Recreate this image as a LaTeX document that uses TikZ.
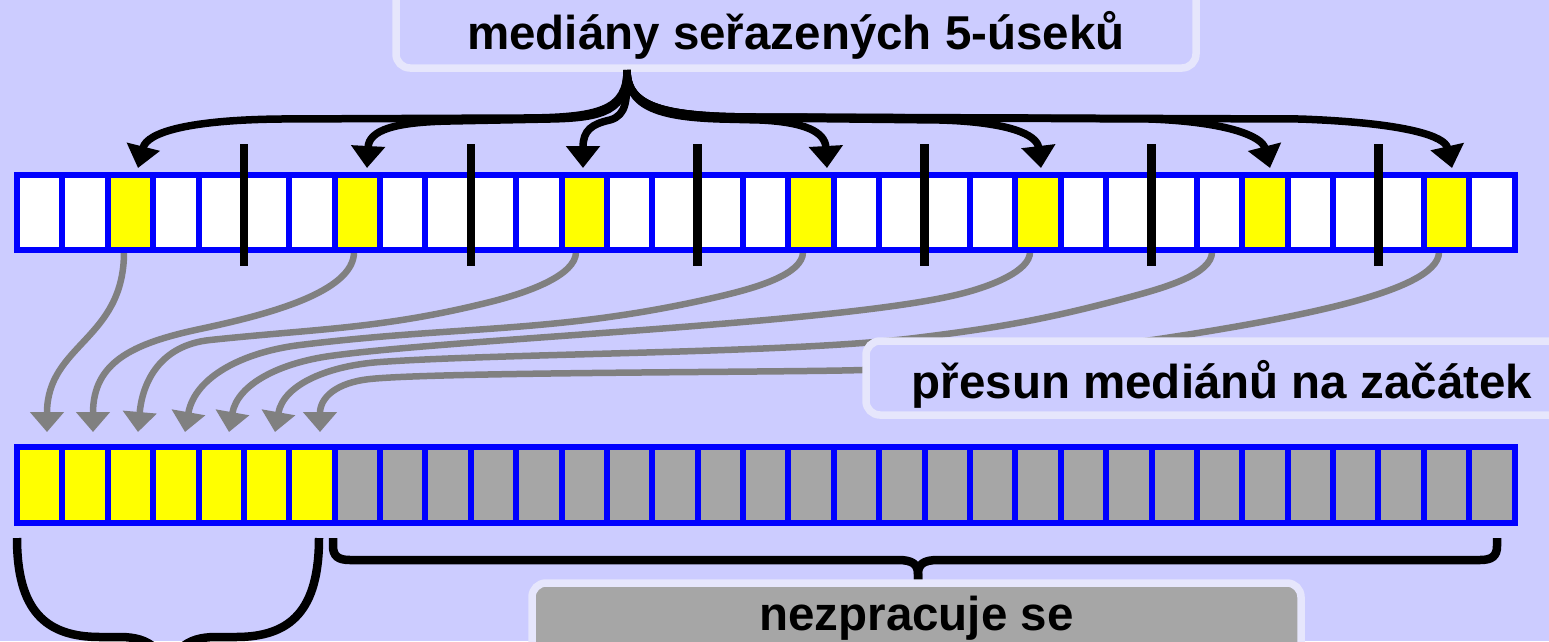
\documentclass[tikz,border=0pt]{standalone}
\usepackage{fontspec}
\setmainfont{Liberation Sans}
\usetikzlibrary{arrows.meta,calc}
\definecolor{bg}{RGB}{204,204,255}
\definecolor{boxedge}{RGB}{230,230,252}
\definecolor{cellgray}{RGB}{166,166,166}
\definecolor{linegray}{RGB}{128,128,128}
\definecolor{cellblue}{RGB}{0,0,255}
\definecolor{medyellow}{RGB}{255,255,0}
\begin{document}
\begin{tikzpicture}[x=1pt,y=1pt,
  cell/.style={rectangle,draw=cellblue,line width=6pt,minimum width=45.38pt,inner sep=0pt,outer sep=0pt},
  lbox/.style={rectangle,rounded corners=14pt,draw=boxedge,line width=7.5pt,inner sep=0pt,font=\bfseries\fontsize{47.5pt}{57pt}\selectfont},
  medarrow/.style={draw=black,line width=7.5pt,-{Triangle[width=33pt,length=22pt]}},
  movearrow/.style={draw=linegray,line width=6.5pt,-{Triangle[width=33pt,length=20pt]}},
  divider/.style={draw=black,line width=8.5pt},
  bracket/.style={draw=black,line width=8.5pt}
]
\fill[bg] (0,0) rectangle (1549,-641);
\useasboundingbox (0,0) rectangle (1549,-641);

% title box
\node[lbox,fill=bg,minimum width=800pt,text height=100pt,text depth=19pt,anchor=base] (title) at (796,-49) {mediány seřazených 5-úseků};

% arrow source and targets
\coordinate (src) at (627,-70);
\coordinate (a1) at (138,-168);
\coordinate (a2) at (367,-168);
\coordinate (a3) at (583,-168);
\coordinate (a4) at (827,-168);
\coordinate (a5) at (1041,-168);
\coordinate (a6) at (1270,-168);
\coordinate (a7) at (1452,-168);

\draw[medarrow] (src) .. controls (627,-110) and (600,-118) .. (520,-118) -- (280,-119) .. controls (190,-120) and (147,-132) .. (a1);
\draw[medarrow] (src) .. controls (627,-110) and (605,-118) .. (550,-119) -- (450,-121) .. controls (395,-122) and (369,-130) .. (a2);
\draw[medarrow] (src) .. controls (627,-100) and (627,-115) .. (610,-120) .. controls (592,-124) and (583,-130) .. (a3);
\draw[medarrow] (src) .. controls (627,-105) and (655,-117) .. (720,-119) -- (760,-120) .. controls (805,-122) and (825,-132) .. (a4);
\draw[medarrow] (src) .. controls (627,-108) and (665,-117) .. (760,-118) -- (940,-120) .. controls (1010,-122) and (1037,-135) .. (a5);
\draw[medarrow] (src) .. controls (627,-108) and (665,-117) .. (760,-117) -- (1150,-119) .. controls (1230,-122) and (1262,-137) .. (a6);
\draw[medarrow] (src) .. controls (627,-108) and (665,-117) .. (760,-117) -- (1300,-119) .. controls (1410,-123) and (1445,-137) .. (a7);

% gray move arrows
\coordinate (g1s) at (124,-252);  \coordinate (g1e) at (47,-432);
\coordinate (g2s) at (354,-252);  \coordinate (g2e) at (93,-432);
\coordinate (g3s) at (576,-252);  \coordinate (g3e) at (138,-432);
\coordinate (g4s) at (803,-252);  \coordinate (g4e) at (185,-432);
\coordinate (g5s) at (1030,-252); \coordinate (g5e) at (229,-432);
\coordinate (g6s) at (1212,-252); \coordinate (g6e) at (275,-432);
\coordinate (g7s) at (1439,-252); \coordinate (g7e) at (320,-432);

\draw[movearrow] (g1s) to[out=-90,in=90,looseness=1.15] (g1e);
\draw[movearrow] (g2s) to[out=-90,in=12,out looseness=0.6] (200,-329)
                 to[out=192,in=90,looseness=1.2] (g2e);
\draw[movearrow] (g3s) to[out=-90,in=14,out looseness=0.6] (490,-302)
                 to[out=194,in=6] (210,-340)
                 to[out=186,in=85,looseness=1.1] (g3e);
\draw[movearrow] (g4s) to[out=-90,in=13,out looseness=0.6] (717,-297)
                 to[out=193,in=7] (300,-345)
                 to[out=187,in=80] (g4e);
\draw[movearrow] (g5s) to[out=-90,in=14,out looseness=0.6] (960,-294)
                 to[out=194,in=8,looseness=0.5] (330,-356)
                 to[out=188,in=80] (g5e);
\draw[movearrow] (g6s) to[out=-90,in=15,out looseness=0.6] (1130,-297)
                 to[out=195,in=7] (915,-338)
                 to[out=187,in=4,looseness=0.6] (380,-362)
                 to[out=184,in=80] (g6e);
\draw[movearrow] (g7s) to[out=-90,in=16,out looseness=0.6] (1359,-300)
                 to[out=196,in=2,looseness=0.6] (862,-370)
                 to[out=182,in=6,looseness=0.35] (370,-379)
                 to[out=186,in=90,looseness=1.2] (g7e);

% top array
\foreach \i in {0,...,32}{
  \pgfmathtruncatemacro\ismed{(\i==2||\i==7||\i==12||\i==17||\i==22||\i==27||\i==31)?1:0}
  \ifnum\ismed=1 \def\cellfill{medyellow}\else\def\cellfill{white}\fi
  \node[cell,minimum height=75pt,fill=\cellfill] (t\i) at ({17+(\i+0.5)*45.38},-212.5) {};
}
\foreach \k in {1,...,6}
  \draw[divider] ({17+5*\k*45.38},-144) -- ({17+5*\k*45.38},-266);

% bottom array
\foreach \i in {0,...,32}{
  \ifnum\i<7 \def\cellfill{medyellow}\else\def\cellfill{cellgray}\fi
  \node[cell,minimum height=76pt,fill=\cellfill] (b\i) at ({17+(\i+0.5)*45.38},-485) {};
}

% move label box
\node[lbox,fill=bg,minimum width=712pt,text height=57pt,text depth=17pt,anchor=base] (presun) at (1222,-398) {přesun mediánů na začátek};

% braces
\draw[bracket] (17,-538) .. controls (17,-610) and (45,-637) .. (100,-637) -- (120,-637) .. controls (150,-637) and (168,-650) .. (168,-690);
\draw[bracket] (319,-538) .. controls (319,-610) and (291,-637) .. (236,-637) -- (216,-637) .. controls (186,-637) and (168,-650) .. (168,-690);
\draw[bracket] (333,-538) -- (333,-546) .. controls (333,-556) and (338,-560) .. (350,-560) -- (898,-560) .. controls (912,-560) and (918,-564) .. (918,-574) -- (918,-588);
\draw[bracket] (1497,-538) -- (1497,-546) .. controls (1497,-556) and (1492,-560) .. (1480,-560) -- (938,-560) .. controls (924,-560) and (918,-564) .. (918,-574) -- (918,-588);

% unprocessed box
\node[lbox,fill=cellgray,minimum width=769pt,text height=47pt,text depth=60pt,anchor=base] (nezpr) at (916.5,-630) {nezpracuje se};
\end{tikzpicture}
\end{document}
